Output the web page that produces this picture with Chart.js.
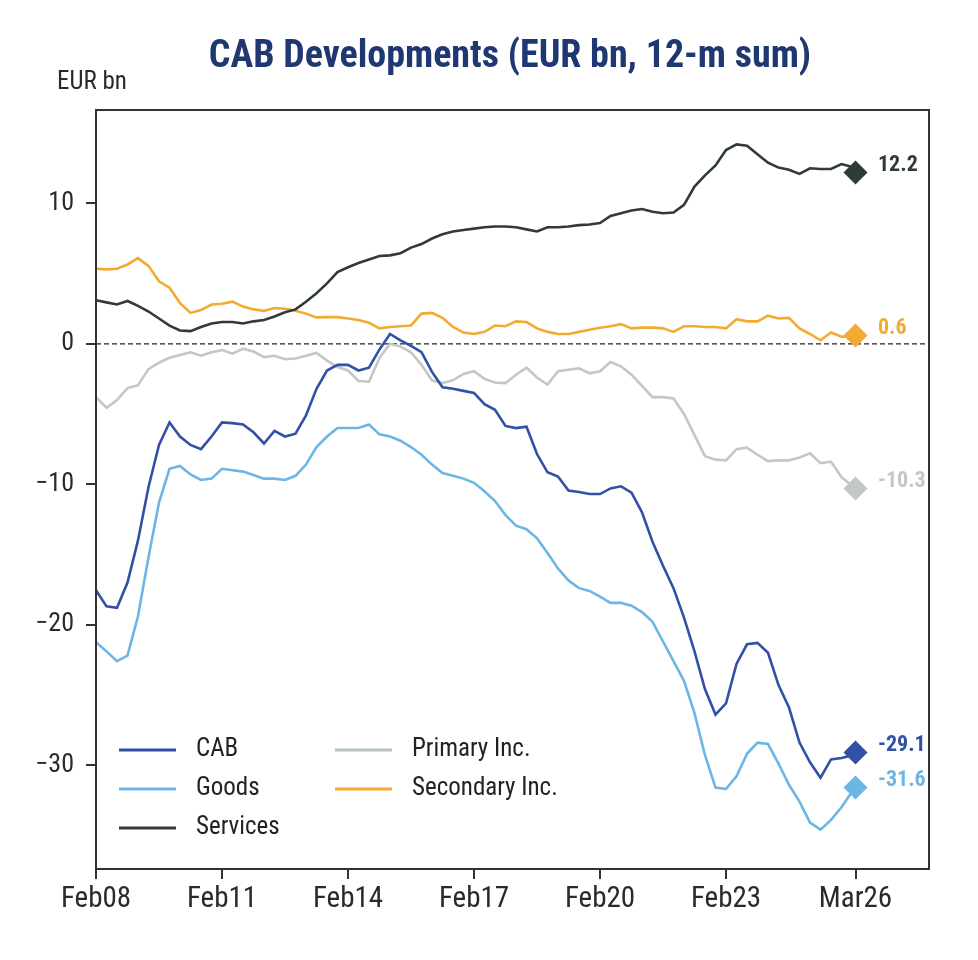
<!DOCTYPE html>
<html lang="en">
<head>
<meta charset="UTF-8">
<title>CAB Developments</title>
<script src="https://cdn.jsdelivr.net/npm/chart.js"></script>
<style>
  body { margin: 0; background: #fff; }
  #wrap { width: 978px; height: 960px; }
</style>
</head>
<body>
<div id="wrap"><canvas id="cabChart" width="978" height="960"></canvas></div>
<script>
// months since Feb 2008, quarterly points, last one is Mar 2026
const months = [0, 3, 6, 9, 12, 15, 18, 21, 24, 27, 30, 33, 36, 39, 42, 45, 48, 51, 54, 57,
  60, 63, 66, 69, 72, 75, 78, 81, 84, 87, 90, 93, 96, 99, 102, 105, 108, 111, 114, 117,
  120, 123, 126, 129, 132, 135, 138, 141, 144, 147, 150, 153, 156, 159, 162, 165, 168, 171, 174, 177,
  180, 183, 186, 189, 192, 195, 198, 201, 204, 207, 210, 213, 216, 217];

const cab = [-17.55, -18.7, -18.8, -17.0, -14.0, -10.2, -7.2, -5.6, -6.6, -7.2,
  -7.5, -6.6, -5.6, -5.65, -5.75, -6.3, -7.1, -6.2, -6.6, -6.4,
  -5.1, -3.2, -1.9, -1.5, -1.5, -1.9, -1.7, -0.4, 0.7, 0.25,
  -0.15, -0.6, -2.0, -3.1, -3.2, -3.35, -3.5, -4.3, -4.7, -5.85,
  -6.0, -5.9, -7.85, -9.15, -9.45, -10.45, -10.55, -10.7, -10.7, -10.3,
  -10.15, -10.6, -12.0, -14.1, -15.8, -17.4, -19.5, -21.9, -24.6, -26.4,
  -25.6, -22.8, -21.4, -21.3, -22.0, -24.3, -25.9, -28.4, -29.8, -30.9,
  -29.6, -29.5, -29.3, -29.1];

const goods = [-21.25, -21.9, -22.6, -22.2, -19.4, -15.2, -11.3, -8.9, -8.7, -9.3,
  -9.7, -9.6, -8.9, -9.0, -9.1, -9.35, -9.6, -9.6, -9.7, -9.4,
  -8.6, -7.35, -6.6, -6.0, -6.0, -6.0, -5.75, -6.45, -6.6, -6.9,
  -7.35, -7.9, -8.6, -9.2, -9.4, -9.6, -9.9, -10.5, -11.2, -12.2,
  -12.95, -13.2, -13.85, -14.9, -16.0, -16.85, -17.4, -17.6, -18.0, -18.45,
  -18.45, -18.65, -19.1, -19.8, -21.2, -22.6, -24.0, -26.3, -29.3, -31.6,
  -31.7, -30.8, -29.2, -28.4, -28.5, -29.9, -31.4, -32.6, -34.1, -34.6,
  -33.9, -33.0, -31.9, -31.6];

const services = [3.1, 2.95, 2.8, 3.05, 2.7, 2.3, 1.8, 1.3, 0.95, 0.9,
  1.2, 1.45, 1.55, 1.55, 1.45, 1.6, 1.7, 1.95, 2.25, 2.45,
  3.0, 3.6, 4.3, 5.1, 5.45, 5.75, 6.0, 6.25, 6.3, 6.45,
  6.85, 7.1, 7.5, 7.8, 8.0, 8.1, 8.2, 8.3, 8.35, 8.35,
  8.3, 8.15, 8.0, 8.3, 8.3, 8.35, 8.45, 8.5, 8.6, 9.1,
  9.3, 9.5, 9.6, 9.4, 9.3, 9.35, 9.9, 11.2, 12.0, 12.7,
  13.8, 14.2, 14.1, 13.5, 12.9, 12.55, 12.4, 12.1, 12.5, 12.45,
  12.45, 12.8, 12.6, 12.2];

const primaryInc = [-3.8, -4.55, -4.0, -3.15, -2.95, -1.8, -1.35, -1.0, -0.8, -0.6,
  -0.85, -0.6, -0.45, -0.7, -0.35, -0.55, -0.95, -0.85, -1.1, -1.05,
  -0.85, -0.65, -1.2, -1.65, -1.9, -2.65, -2.7, -1.0, 0.0, -0.2,
  -0.6, -1.5, -2.6, -2.8, -2.6, -2.15, -1.95, -2.5, -2.75, -2.8,
  -2.2, -1.7, -2.4, -2.9, -1.95, -1.85, -1.75, -2.1, -1.95, -1.3,
  -1.6, -2.2, -3.0, -3.8, -3.8, -3.9, -5.0, -6.5, -8.0, -8.25,
  -8.3, -7.5, -7.4, -7.9, -8.35, -8.3, -8.3, -8.1, -7.8, -8.5,
  -8.4, -9.5, -10.1, -10.3];

const secondaryInc = [5.35, 5.3, 5.35, 5.65, 6.1, 5.55, 4.45, 4.0, 2.9, 2.2,
  2.4, 2.8, 2.85, 3.0, 2.65, 2.45, 2.35, 2.55, 2.5, 2.35,
  2.15, 1.88, 1.9, 1.9, 1.8, 1.7, 1.5, 1.1, 1.2, 1.25,
  1.3, 2.15, 2.2, 1.85, 1.2, 0.8, 0.7, 0.85, 1.3, 1.25,
  1.6, 1.55, 1.1, 0.85, 0.7, 0.7, 0.85, 1.0, 1.15, 1.25,
  1.4, 1.1, 1.15, 1.15, 1.1, 0.85, 1.25, 1.25, 1.2, 1.2,
  1.1, 1.75, 1.6, 1.6, 2.0, 1.8, 1.85, 1.1, 0.7, 0.25,
  0.8, 0.5, 0.55, 0.6];

const seriesNames = ['CAB', 'Goods', 'Services', 'Primary Inc.', 'Secondary Inc.'];
const xTickMonths = [0, 36, 72, 108, 144, 180, 217];
const xTickLabels = ['Feb08', 'Feb11', 'Feb14', 'Feb17', 'Feb20', 'Feb23', 'Mar26'];
const yTicks = [-30, -20, -10, 0, 10];

const NARROW = '"Liberation Sans Narrow", "Arial Narrow", "Roboto Condensed", "DejaVu Sans Condensed", sans-serif';
const colores = ['#3150a6', '#6cb6e6', '#2f3b36', '#c3c7c5', '#f2ab30'];
const series = [cab, goods, services, primaryInc, secondaryInc];
const ultimo = months.length - 1;

// titulo, legenda, linha do zero, moldura e rotulos finais
const decor = {
    id: 'decor',
    beforeDatasetsDraw(chart) {
        const { ctx, chartArea, scales } = chart;
        const y0 = scales.y.getPixelForValue(0);
        ctx.save();
        ctx.strokeStyle = '#222';
        ctx.lineWidth = 1.3;
        ctx.setLineDash([5, 3]);
        ctx.beginPath();
        ctx.moveTo(chartArea.left, y0);
        ctx.lineTo(chartArea.right, y0);
        ctx.stroke();
        ctx.restore();
    },
    afterDraw(chart) {
        const { ctx, chartArea } = chart;
        ctx.save();
        ctx.strokeStyle = '#333';
        ctx.lineWidth = 2;
        ctx.strokeRect(chartArea.left, chartArea.top, chartArea.right - chartArea.left, chartArea.bottom - chartArea.top);

        ctx.fillStyle = '#1f3872';
        ctx.font = 'bold 38px ' + NARROW;
        ctx.textAlign = 'center';
        ctx.textBaseline = 'alphabetic';
        ctx.fillText('CAB Developments (EUR bn, 12-m sum)', 510, 67);

        ctx.fillStyle = '#2a2a2a';
        ctx.font = '25px ' + NARROW;
        ctx.textAlign = 'left';
        ctx.fillText('EUR bn', 57, 89);

        // legenda em duas colunas
        const pos = [[119, 750], [119, 789], [119, 828], [335, 750], [335, 789]];
        ctx.textBaseline = 'middle';
        seriesNames.forEach((nome, i) => {
            const [lx, ly] = pos[i];
            ctx.strokeStyle = i === 3 ? '#b8c6b8' : colores[i];
            ctx.lineWidth = 3;
            ctx.beginPath();
            ctx.moveTo(lx, ly);
            ctx.lineTo(lx + 57, ly);
            ctx.stroke();
            ctx.fillStyle = '#222';
            ctx.fillText(nome, lx + 77, ly);
        });

        // valores finais ao lado dos losangos
        ctx.font = 'bold 22px ' + NARROW;
        series.forEach((dados, i) => {
            const pt = chart.getDatasetMeta(i).data[ultimo];
            ctx.fillStyle = colores[i];
            ctx.fillText(dados[ultimo].toFixed(1), 878, pt.y - 7);
        });
        ctx.restore();
    }
};

const ctx = document.getElementById('cabChart');
new Chart(ctx, {
    type: 'line',
    data: {
        datasets: series.map((dados, i) => ({
            label: seriesNames[i],
            data: dados.map((v, k) => ({ x: months[k], y: v })),
            borderColor: colores[i],
            backgroundColor: colores[i],
            borderWidth: 2.6,
            tension: 0,
            pointStyle: 'rectRot',
            pointRadius: c => c.dataIndex === ultimo ? 12 : 0,
            pointHoverRadius: 0,
            pointBorderWidth: 0,
            clip: false
        }))
    },
    options: {
        responsive: false,
        animation: false,
        layout: { padding: { top: 110, right: 49, left: 0, bottom: 0 } },
        plugins: {
            legend: { display: false },
            tooltip: { enabled: false },
            title: { display: false }
        },
        scales: {
            x: {
                type: 'linear',
                min: 0,
                max: 238,
                afterBuildTicks: s => { s.ticks = xTickMonths.map(v => ({ value: v })); },
                afterFit: s => { s.height = 91; },
                ticks: {
                    callback: (v, i) => xTickLabels[i],
                    autoSkip: false,
                    maxRotation: 0,
                    padding: 3,
                    color: '#2a2a2a',
                    font: { family: NARROW, size: 29 }
                },
                grid: { drawOnChartArea: false, drawTicks: true, tickLength: 10, color: '#333', lineWidth: 2 },
                border: { display: true, color: '#333', width: 2 }
            },
            y: {
                min: -37.4,
                max: 16.65,
                afterBuildTicks: s => { s.ticks = yTicks.map(v => ({ value: v })); },
                afterFit: s => { s.width = 96; },
                ticks: {
                    callback: v => v < 0 ? '\u2212' + Math.abs(v) : String(v),
                    padding: 12,
                    color: '#2a2a2a',
                    font: { family: NARROW, size: 26 }
                },
                grid: { drawOnChartArea: false, drawTicks: true, tickLength: 10, color: '#333', lineWidth: 2 },
                border: { display: true, color: '#333', width: 2 }
            }
        }
    },
    plugins: [decor]
});
</script>
</body>
</html>
